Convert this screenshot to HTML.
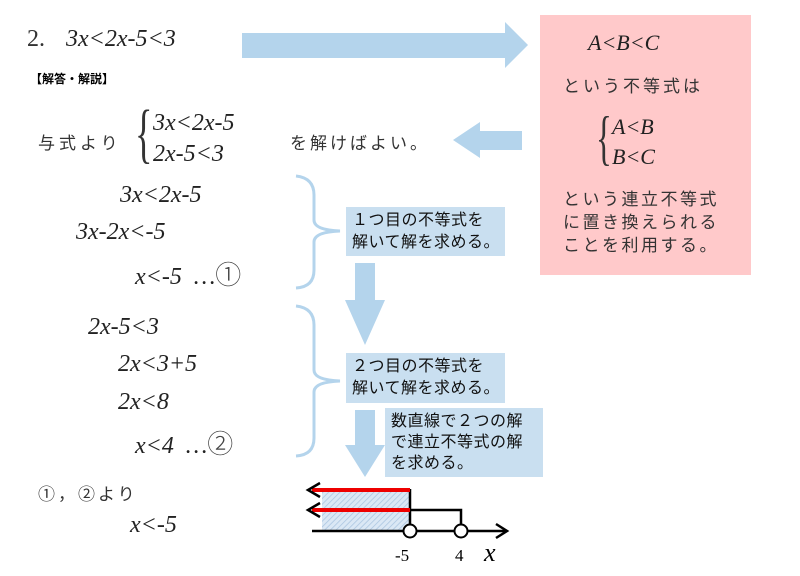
<!DOCTYPE html>
<html><head><meta charset="utf-8"><style>
body{margin:0;width:800px;height:576px;background:#fff;overflow:hidden;position:relative;font-family:"Liberation Serif","Noto Serif CJK SC",serif;}
.a{position:absolute;white-space:nowrap;}
.m{font-family:"Liberation Serif",serif;font-style:italic;font-size:24px;color:#222;}
.j{font-family:"Liberation Sans","Noto Sans CJK JP",sans-serif;color:#333;}
.c{font-style:normal;font-family:"Noto Sans CJK JP",sans-serif;font-weight:300;font-size:26px;color:#444;}
.box{position:absolute;background:#c9dff0;font-family:"Liberation Sans","Noto Sans CJK JP",sans-serif;font-size:16px;letter-spacing:0.5px;line-height:22px;color:#111;padding:3px 6px;box-sizing:border-box;white-space:nowrap;overflow:hidden;}
</style></head><body>
<svg class="a" style="left:0;top:0" width="800" height="576">
<rect x="540" y="15" width="211" height="260" fill="#ffc9ca"/>
<polygon points="242,33 505,33 505,22 528,45 505,68 505,58 242,58" fill="#b4d4ec"/>
<polygon points="522,131 480,131 480,122 453,140 480,158 480,150 522,150" fill="#b4d4ec"/>
<polygon points="355,263 375,263 375,300 385,300 365,345 345,300 355,300" fill="#b4d4ec"/>
<polygon points="355,410 375,410 375,445 385,445 365,477 345,445 355,445" fill="#b4d4ec"/>
<path d="M296,176 Q314,178 314,195 L314,220 Q314,230 340,231 Q314,232 314,242 L314,270 Q314,287 296,288" fill="none" stroke="#b4d4ec" stroke-width="3"/>
<path d="M296,306 Q314,308 314,325 L314,370 Q314,380 340,381 Q314,382 314,392 L314,438 Q314,455 296,456" fill="none" stroke="#b4d4ec" stroke-width="3"/>
<defs><pattern id="h" width="4" height="4" patternUnits="userSpaceOnUse" patternTransform="rotate(45)"><rect width="4" height="4" fill="#dbe8f5"/><line x1="0" y1="0" x2="0" y2="4" stroke="#a9c4e0" stroke-width="1.5"/></pattern></defs>
<rect x="322" y="490" width="88" height="40" fill="url(#h)"/>
<line x1="312" y1="531" x2="505" y2="531" stroke="#000" stroke-width="2.5"/>
<polyline points="496,524 507,531 496,538" fill="none" stroke="#000" stroke-width="2.5"/>
<line x1="410" y1="489" x2="410" y2="531" stroke="#000" stroke-width="2.5"/>
<polyline points="410,510 461,510 461,531" fill="none" stroke="#000" stroke-width="2.5"/>
<line x1="312" y1="490" x2="410" y2="490" stroke="#e00" stroke-width="4"/>
<line x1="312" y1="510" x2="410" y2="510" stroke="#e00" stroke-width="4"/>
<polyline points="320,483 308,490 320,497" fill="none" stroke="#000" stroke-width="2.5"/>
<polyline points="320,503 308,510 320,517" fill="none" stroke="#000" stroke-width="2.5"/>
<circle cx="410" cy="531" r="6.5" fill="#fff" stroke="#000" stroke-width="2"/>
<circle cx="461" cy="531" r="6.5" fill="#fff" stroke="#000" stroke-width="2"/>
<text x="395" y="561" font-family="Liberation Serif" font-size="17">-5</text>
<text x="455" y="561" font-family="Liberation Serif" font-size="17">4</text>
<text x="484" y="561" font-family="Liberation Serif" font-style="italic" font-size="26">x</text>
</svg>
<div class="a" style="left:27px;top:26px;font-size:24px;color:#333">2.</div>
<div class="a m" style="left:66px;top:26px">3x&lt;2x-5&lt;3</div>
<div class="a j" style="left:30px;top:70px;font-size:12px;font-weight:bold;color:#000">【解答・解説】</div>
<div class="a j" style="left:38px;top:129px;font-size:17px;letter-spacing:4px">与式より</div>
<div class="a" style="left:135px;top:96px;font-size:66px;color:#333;font-family:'Liberation Serif',serif;transform:scaleX(0.55);transform-origin:left">{</div>
<div class="a m" style="left:153px;top:110px">3x&lt;2x-5</div>
<div class="a m" style="left:153px;top:141px">2x-5&lt;3</div>
<div class="a j" style="left:290px;top:129px;font-size:17px;letter-spacing:3px">を解けばよい。</div>
<div class="a m" style="left:120px;top:182px">3x&lt;2x-5</div>
<div class="a m" style="left:76px;top:219px">3x-2x&lt;-5</div>
<div class="a m" style="left:135px;top:255px">x&lt;-5 &nbsp;…<span class="c">①</span></div>
<div class="a m" style="left:88px;top:314px">2x-5&lt;3</div>
<div class="a m" style="left:118px;top:351px">2x&lt;3+5</div>
<div class="a m" style="left:118px;top:389px">2x&lt;8</div>
<div class="a m" style="left:135px;top:424px">x&lt;4 &nbsp;…<span class="c">②</span></div>
<div class="a j" style="left:38px;top:480px;font-size:17px;letter-spacing:3px">①，②より</div>
<div class="a m" style="left:130px;top:512px">x&lt;-5</div>
<div class="a m" style="left:588px;top:30px;font-size:22px">A&lt;B&lt;C</div>
<div class="a j" style="left:563px;top:72px;font-size:17px;letter-spacing:3px">という不等式は</div>
<div class="a" style="left:596px;top:104px;font-size:60px;color:#333;transform:scaleX(0.55);transform-origin:left">{</div>
<div class="a m" style="left:612px;top:114px;font-size:22px">A&lt;B</div>
<div class="a m" style="left:612px;top:144px;font-size:22px">B&lt;C</div>
<div class="a j" style="left:563px;top:188px;font-size:17px;line-height:23px;letter-spacing:2.5px">という連立不等式<br>に置き換えられる<br>ことを利用する。</div>
<div class="box" style="left:346px;top:207px;width:159px;height:49px">１つ目の不等式を<br>解いて解を求める。</div>
<div class="box" style="left:346px;top:353px;width:159px;height:50px">２つ目の不等式を<br>解いて解を求める。</div>
<div class="box" style="left:385px;top:408px;width:158px;height:69px;line-height:21px">数直線で２つの解<br>で連立不等式の解<br>を求める。</div>
</body></html>
